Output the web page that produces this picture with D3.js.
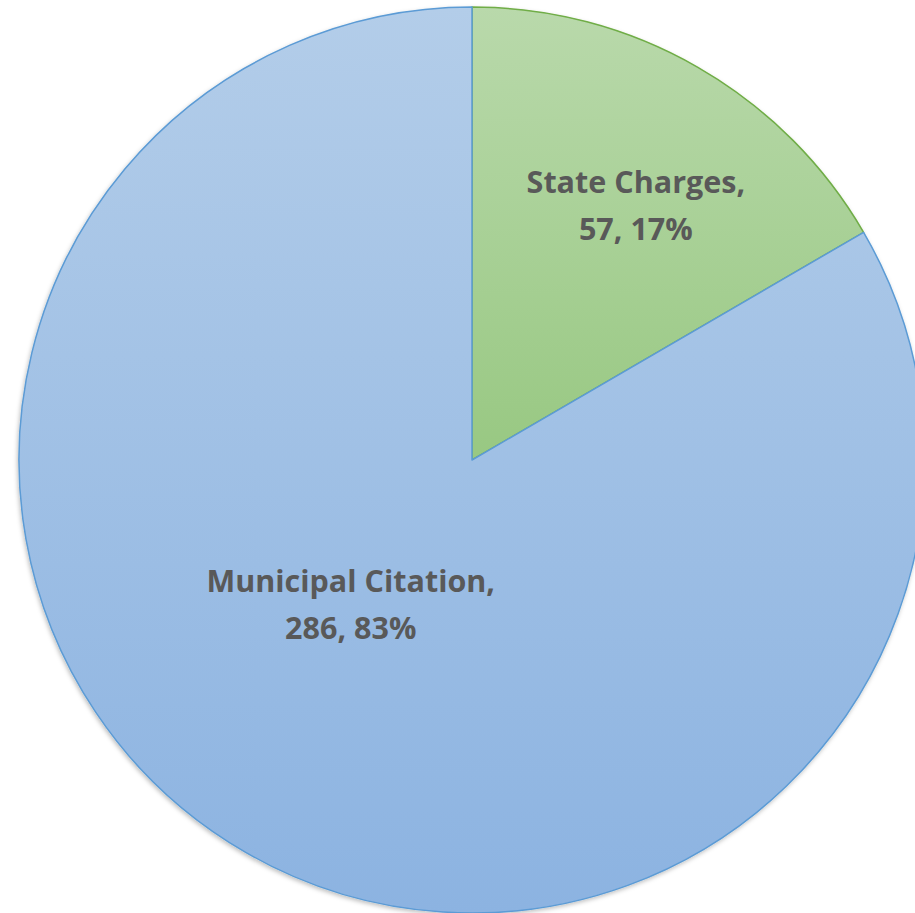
<!DOCTYPE html>
<html lang="en">
<head>
<meta charset="utf-8">
<title>Charges pie</title>
<script src="https://d3js.org/d3.v7.min.js"></script>
<style>
  body{margin:0;background:#fff;font-family:"Open Sans",sans-serif;}
  svg{display:block;}
</style>
</head>
<body>
<div id="chart"></div>
<script>
// data
var categories = ["State Charges", "Municipal Citation"]
var counts = [57, 286]
var percents = ["17%", "83%"]

var w = 915, h = 913
var cx = 472, cy = 460, r = 453

var svg = d3.select("#chart").append("svg")
    .attr("width", w).attr("height", h)

var defs = svg.append("defs")

// gradient fills per slice, lighter at top like the original
var grads = [
  {id: "gGreen", top: "#b9d9ab", bottom: "#98c882"},
  {id: "gBlue", top: "#b3cde9", bottom: "#8cb3e1"}
]
grads.forEach(function(g){
  var lg = defs.append("linearGradient")
      .attr("id", g.id)
      .attr("x1", 0).attr("y1", 0).attr("x2", 0).attr("y2", 1)
  lg.append("stop").attr("offset", "0%").attr("stop-color", g.top)
  lg.append("stop").attr("offset", "100%").attr("stop-color", g.bottom)
})

var shadow = defs.append("filter").attr("id", "shadow")
    .attr("x", "-10%").attr("y", "-10%").attr("width", "120%").attr("height", "120%")
shadow.append("feDropShadow")
    .attr("dx", -1).attr("dy", 2).attr("stdDeviation", 2)
    .attr("flood-color", "#000").attr("flood-opacity", 0.25)

var fills = ["url(#gGreen)", "url(#gBlue)"]
var strokes = ["#70ad47", "#5b9bd5"]

var pie = d3.pie().sort(null).value(function(d){ return d })
var arcs = pie(counts)

var arc = d3.arc().innerRadius(0).outerRadius(r)

var g = svg.append("g")
    .attr("transform", "translate(" + cx + "," + cy + ")")

g.append("g").attr("filter", "url(#shadow)")
  .selectAll("path")
  .data(arcs)
  .enter()
  .append("path")
    .attr("d", arc)
    .attr("fill", function(d, i){ return fills[i] })
    .attr("stroke", function(d, i){ return strokes[i] })
    .attr("stroke-width", 1.5)
    .attr("stroke-linejoin", "round")

// label placement (offsets from the slice centroid, tuned by eye)
var labelArc = [
  d3.arc().innerRadius(0).outerRadius(r * 1.3),
  d3.arc().innerRadius(0).outerRadius(r * 0.87)
]
var nudge = [[17, 0], [-23, -27]]

var labels = g.selectAll(".lbl")
  .data(arcs)
  .enter()
  .append("text")
    .attr("class", "lbl")
    .attr("text-anchor", "middle")
    .attr("fill", "#595959")
    .attr("font-weight", "bold")
    .attr("font-size", 30.5)
    .attr("transform", function(d, i){
      var c = labelArc[i].centroid(d)
      return "translate(" + (c[0] + nudge[i][0]) + "," + (c[1] + nudge[i][1]) + ")"
    })

labels.append("tspan")
    .attr("x", 0).attr("y", -12)
    .text(function(d, i){ return categories[i] + "," })
labels.append("tspan")
    .attr("x", 0).attr("y", 35)
    .text(function(d, i){ return counts[i] + ", " + percents[i] })
</script>
</body>
</html>
